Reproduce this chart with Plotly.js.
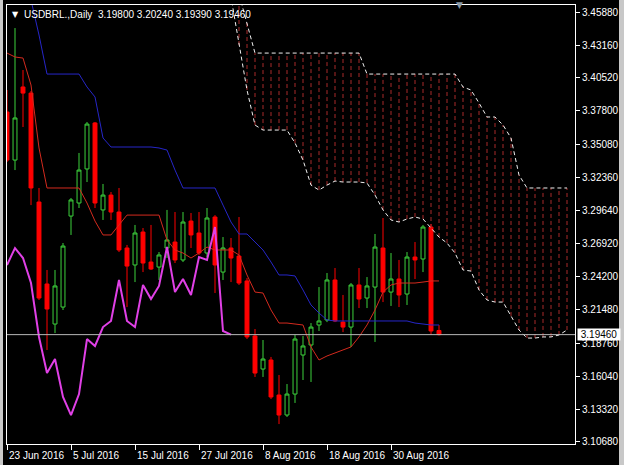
<!DOCTYPE html>
<html><head><meta charset="utf-8">
<script src="https://cdn.plot.ly/plotly-3.0.1.min.js"></script>
<style>html,body{margin:0;padding:0;background:#000;}#chart{width:624px;height:465px;}</style>
</head><body><div id="chart"></div>
<script>
const symbolName = 'USDBRL.,Daily';
const dates = ['23 Jun 2016','24 Jun 2016','27 Jun 2016','28 Jun 2016','29 Jun 2016','30 Jun 2016',
 '1 Jul 2016','4 Jul 2016','5 Jul 2016','6 Jul 2016','7 Jul 2016','8 Jul 2016','11 Jul 2016','12 Jul 2016','13 Jul 2016','14 Jul 2016','15 Jul 2016','18 Jul 2016','19 Jul 2016','20 Jul 2016','21 Jul 2016','22 Jul 2016','25 Jul 2016','26 Jul 2016','27 Jul 2016','28 Jul 2016','29 Jul 2016',
 '1 Aug 2016','2 Aug 2016','3 Aug 2016','4 Aug 2016','5 Aug 2016','8 Aug 2016','9 Aug 2016','10 Aug 2016','11 Aug 2016','12 Aug 2016','15 Aug 2016','16 Aug 2016','17 Aug 2016','18 Aug 2016','19 Aug 2016','22 Aug 2016','23 Aug 2016','24 Aug 2016','25 Aug 2016','26 Aug 2016','29 Aug 2016','30 Aug 2016','31 Aug 2016',
 '1 Sep 2016','2 Sep 2016','5 Sep 2016','6 Sep 2016','7 Sep 2016'];
const open = [3.3771,3.3377,3.3976,3.3926,3.3033,3.2361,3.2033,3.2172,3.2918,3.3025,3.3304,3.3681,3.2968,3.3090,3.2951,3.2656,3.2517,3.2787,3.2541,3.2500,3.2656,3.2705,3.2558,3.2877,3.2779,3.2615,3.2910,3.2459,3.2656,3.2590,3.2386,3.1935,3.1664,3.1738,3.1451,3.1287,3.1459,3.1779,3.1861,3.2025,3.2066,3.2394,3.2049,3.2008,3.2353,3.2246,3.2336,3.2656,3.2295,3.2402,3.2279,3.2582,3.2566,3.2828,3.1980];
const high = [3.3951,3.4459,3.4115,3.3943,3.3148,3.2476,3.2476,3.2697,3.3066,3.3435,3.3689,3.3689,3.3181,3.3115,3.3148,3.2681,3.2845,3.2820,3.2845,3.2623,3.2968,3.2951,3.2951,3.2943,3.2951,3.2984,3.2926,3.2746,3.2738,3.2910,3.2410,3.1992,3.1902,3.1763,3.1615,3.1541,3.1943,3.1935,3.2041,3.2336,3.2451,3.2492,3.2271,3.2369,3.2492,3.2418,3.2771,3.2902,3.2615,3.2558,3.2623,3.2705,3.2845,3.2853,3.2024];
const low = [3.3361,3.3295,3.3648,3.3008,3.2230,3.1820,3.1959,3.2148,3.2763,3.2984,3.3197,3.2984,3.2886,3.2886,3.2623,3.2172,3.2377,3.2459,3.2476,3.2394,3.2574,3.2533,3.2541,3.2656,3.2599,3.2582,3.2287,3.2394,3.2377,3.2353,3.1910,3.1599,3.1599,3.1418,3.1213,3.1271,3.1386,3.1574,3.1558,3.1976,3.2049,3.2049,3.1967,3.1845,3.2164,3.2164,3.1886,3.2213,3.2181,3.2172,3.2189,3.2402,3.2459,3.1943,3.1939];
const close = [3.3377,3.3722,3.3926,3.3148,3.2246,3.2156,3.2345,3.2672,3.3050,3.3295,3.3672,3.3025,3.3090,3.2951,3.2640,3.2508,3.2779,3.2533,3.2484,3.2599,3.2722,3.2558,3.2869,3.2763,3.2615,3.2902,3.2517,3.2656,3.2574,3.2369,3.1927,3.1631,3.1746,3.1435,3.1287,3.1459,3.1910,3.1853,3.2008,3.2058,3.2394,3.2058,3.2008,3.2353,3.2238,3.2345,3.2664,3.2295,3.2402,3.2271,3.2582,3.2558,3.2828,3.1976,3.1946];
const tenkan = [3.4254,3.4222,3.4213,3.3992,3.3476,3.3148,3.3148,3.3148,3.3148,3.3148,3.3025,3.2877,3.2763,3.2763,3.2845,3.2926,3.2926,3.2926,3.2926,3.2926,3.2722,3.2640,3.2615,3.2574,3.2615,3.2664,3.2640,3.2640,3.2640,3.2599,3.2435,3.2295,3.2287,3.2148,3.2041,3.2041,3.2033,3.2025,3.1845,3.1738,3.1771,3.1795,3.1820,3.1845,3.1927,3.2025,3.2148,3.2295,3.2353,3.2369,3.2369,3.2369,3.2377,3.2386,3.2386];
const kijun = [3.5200,3.5100,3.4900,3.4689,3.4402,3.4082,3.4082,3.4082,3.4082,3.4082,3.3976,3.3894,3.3558,3.3484,3.3484,3.3484,3.3484,3.3484,3.3484,3.3476,3.3459,3.3295,3.3148,3.3148,3.3148,3.3148,3.3148,3.3008,3.2869,3.2771,3.2771,3.2705,3.2640,3.2541,3.2435,3.2435,3.2427,3.2312,3.2189,3.2123,3.2066,3.2058,3.2058,3.2058,3.2058,3.2058,3.2058,3.2058,3.2058,3.2058,3.2058,3.2041,3.2033,3.2025,3.2025];
// Senkou spans (shifted forward), first value belongs to bar slot 26
const cloudFirstSlot = 26;
const spanA = [3.4853,3.4800,3.4713,3.4320,3.3951,3.3664,3.3623,3.3623,3.3623,3.3623,3.3517,3.3377,3.3172,3.3131,3.3172,3.3205,3.3197,3.3197,3.3197,3.3189,3.3090,3.2968,3.2886,3.2869,3.2894,3.2910,3.2894,3.2820,3.2746,3.2697,3.2615,3.2476,3.2467,3.2312,3.2230,3.2213,3.2213,3.2099,3.1984,3.1918,3.1918,3.1927,3.1927,3.1943,3.1984];
const spanB = [3.5200,3.5100,3.5000,3.4738,3.4500,3.4254,3.4254,3.4254,3.4254,3.4254,3.4254,3.4254,3.4254,3.4254,3.4254,3.4254,3.4254,3.4254,3.4254,3.4082,3.4082,3.4082,3.4082,3.4082,3.4082,3.4082,3.4082,3.4082,3.4082,3.4082,3.4082,3.3976,3.3951,3.3845,3.3730,3.3730,3.3664,3.3558,3.3254,3.3148,3.3148,3.3148,3.3148,3.3148,3.3148];
const chikouShift = 26;
const priceTicks = [3.45880,3.43160,3.40520,3.37800,3.35080,3.32360,3.29640,3.26920,3.24200,3.21480,3.18760,3.16040,3.13320,3.10680];
const dateTickLabels = ['23 Jun 2016','5 Jul 2016','15 Jul 2016','27 Jul 2016','8 Aug 2016','18 Aug 2016','30 Aug 2016'];

const FONT = "'Liberation Sans Narrow', 'Arial Narrow', 'Liberation Sans', Arial, sans-serif";
const FS = 10;
const idx = dates.map((d,i)=>i);
const last = dates.length-1;

const hx=[], hy=[];
spanA.forEach((a,k)=>{ const s=cloudFirstSlot+k; hx.push(s,s,null); hy.push(a,spanB[k],null); });
const cloudX = spanA.map((a,k)=>cloudFirstSlot+k);

const chX=[], chY=[];
for(let i=chikouShift;i<=last;i++){ chX.push(i-chikouShift); chY.push(close[i]); }

const traces = [
 {type:'scatter',mode:'lines',x:hx,y:hy,line:{color:'#a82a2a',width:1,dash:'4px,3px'},hoverinfo:'skip'},
 {type:'scatter',mode:'lines',x:cloudX,y:spanB,line:{color:'#f0f0f0',width:1,dash:'4px,3px'},hoverinfo:'skip'},
 {type:'scatter',mode:'lines',x:cloudX,y:spanA,line:{color:'#f0f0f0',width:1,dash:'4px,3px'},hoverinfo:'skip'},
 {type:'candlestick',x:idx,open:open,high:high,low:low,close:close,whiskerwidth:0,
  increasing:{line:{color:'#3cd23c',width:1},fillcolor:'#000000'},
  decreasing:{line:{color:'#ff0000',width:1},fillcolor:'#ff0000'},hoverinfo:'skip'},
 {type:'scatter',mode:'lines',x:idx,y:tenkan,line:{color:'#d42a1e',width:1},hoverinfo:'skip'},
 {type:'scatter',mode:'lines',x:idx,y:kijun,line:{color:'#2626c8',width:1},hoverinfo:'skip'},
 {type:'scatter',mode:'lines',x:chX,y:chY,line:{color:'#e040e6',width:2},hoverinfo:'skip'}
];

const annotations = [
 {xref:'paper',yref:'paper',x:0,y:1,xanchor:'left',yanchor:'top',xshift:3,yshift:-3,showarrow:false,
  text:'▼',font:{family:'DejaVu Sans',size:8,color:'#ffffff'}},
 {xref:'paper',yref:'paper',x:0,y:1,xanchor:'left',yanchor:'top',xshift:15,yshift:-2,showarrow:false,
  text:symbolName+'  '+[open[last],high[last],low[last],close[last]].map(v=>v.toFixed(5)).join(' '),
  font:{family:FONT,size:FS,color:'#ffffff'}},
 {xref:'paper',yref:'y',x:1,y:close[last],xanchor:'left',yanchor:'middle',xshift:2,showarrow:false,
  text:'&nbsp;'+close[last].toFixed(5)+'&nbsp;',bgcolor:'#ffffff',borderpad:0,font:{family:FONT,size:FS,color:'#000000'}},
 {xref:'paper',yref:'paper',x:(459-7)/568,y:1,xanchor:'center',yanchor:'middle',showarrow:false,
  text:'▼',font:{family:'DejaVu Sans',size:9,color:'#8a9aa8'}}
];
dateTickLabels.forEach(l=>{
 annotations.push({xref:'x',yref:'paper',x:dates.indexOf(l),y:0,xanchor:'left',yanchor:'top',xshift:0,yshift:-4,
  showarrow:false,text:l,font:{family:FONT,size:FS,color:'#ffffff'}});
});

const layout = {
 width:624,height:465,paper_bgcolor:'#000',plot_bgcolor:'#000',showlegend:false,
 margin:{l:7,r:49,t:5,b:21},
 xaxis:{range:[0,71],showgrid:false,zeroline:false,showline:true,mirror:true,linecolor:'#ffffff',linewidth:1,
  ticks:'outside',ticklen:5,tickcolor:'#ffffff',tickvals:dateTickLabels.map(l=>dates.indexOf(l)),showticklabels:false,
  rangeslider:{visible:false},fixedrange:true},
 yaxis:{side:'right',range:[3.10495,3.4648],showgrid:false,zeroline:false,showline:true,mirror:true,linecolor:'#ffffff',linewidth:1,
  ticks:'outside',ticklen:4,tickcolor:'#ffffff',tickvals:priceTicks,ticktext:priceTicks.map(v=>v.toFixed(5)),
  tickfont:{family:FONT,size:FS,color:'#ffffff'},fixedrange:true},
 shapes:[
  {type:'line',xref:'paper',yref:'y',x0:0,x1:1,y0:close[last],y1:close[last],line:{color:'#b8b8b8',width:1}},
  {type:'rect',xref:'paper',yref:'paper',x0:(619-7)/568,x1:(624-7)/568,y0:-1,y1:2,fillcolor:'#c8c8c8',line:{width:0}},
  {type:'rect',xref:'paper',yref:'paper',x0:(0-7)/568,x1:(3-7)/568,y0:-1,y1:2,fillcolor:'#c8c8c8',line:{width:0}}
 ],
 annotations:annotations
};
Plotly.newPlot('chart',traces,layout,{staticPlot:true,displayModeBar:false});
</script></body></html>
